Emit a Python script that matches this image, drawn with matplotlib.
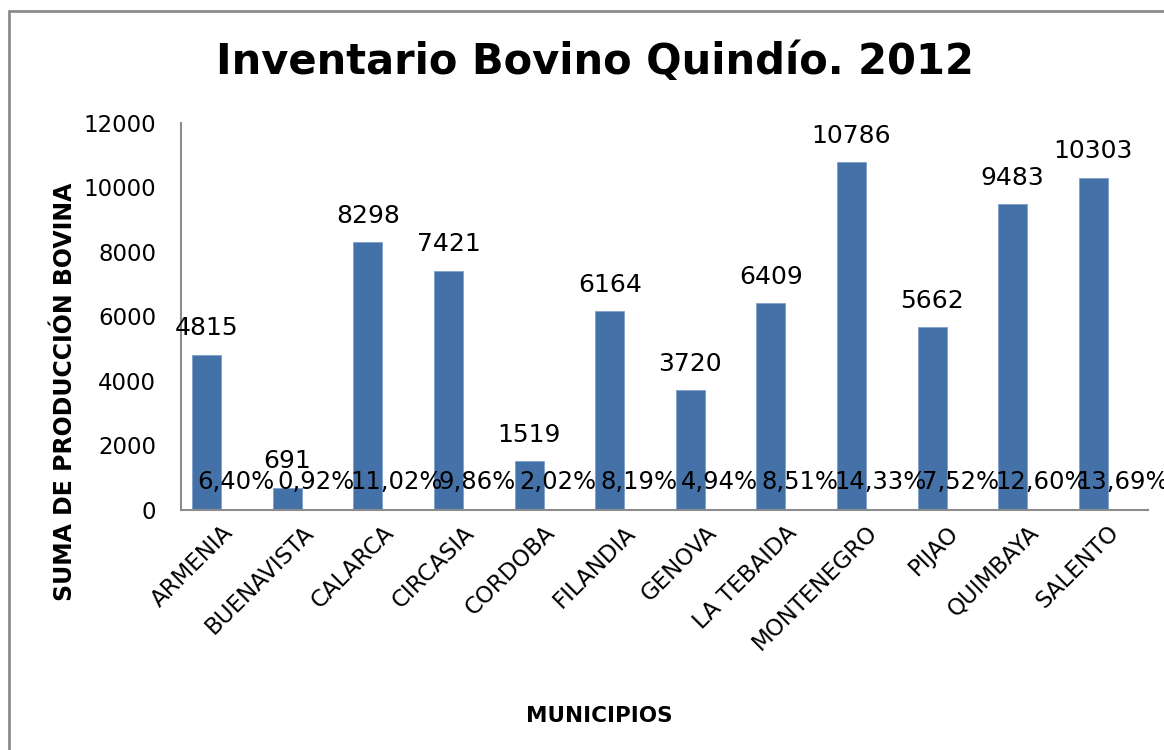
import matplotlib.pyplot as plt
from matplotlib.patches import Rectangle

municipios = ['ARMENIA', 'BUENAVISTA', 'CALARCA', 'CIRCASIA', 'CORDOBA', 'FILANDIA',
              'GENOVA', 'LA TEBAIDA', 'MONTENEGRO', 'PIJAO', 'QUIMBAYA', 'SALENTO']
bovinos = [4815, 691, 8298, 7421, 1519, 6164, 3720, 6409, 10786, 5662, 9483, 10303]
porcentajes = ['6,40%', '0,92%', '11,02%', '9,86%', '2,02%', '8,19%',
               '4,94%', '8,51%', '14,33%', '7,52%', '12,60%', '13,69%']

plt.rcParams['font.family'] = ['DejaVu Sans']

fig = plt.figure(figsize=(11.64, 7.5), dpi=100)
ax = fig.add_axes([181 / 1164, 240 / 750, 967 / 1164, 387 / 750])

x = list(range(len(municipios)))
w = 0.36
bars = ax.bar([i - w / 2 for i in x], bovinos, width=w, color='#4472A8',
              edgecolor='#7F9FC9', linewidth=0.6, zorder=2)

# cantidad encima de cada barra
for b, v in zip(bars, bovinos):
    ax.annotate(str(v), (b.get_x() + b.get_width() / 2, v), xytext=(0, 19),
                textcoords='offset points', ha='center', va='center', fontsize=18)

# participación porcentual junto a cada barra
for i, p in zip(x, porcentajes):
    ax.annotate(p, (i + w / 2, 0), xytext=(0, 20), textcoords='offset points',
                ha='center', va='center', fontsize=17.5)

ax.set_xlim(-0.5, len(municipios) - 0.5)
ax.set_ylim(0, 12000)
ax.set_yticks(range(0, 12001, 2000))
ax.tick_params(axis='y', length=0, pad=18, labelsize=16.5)
ax.set_xticks(x)
ax.set_xticklabels(municipios, rotation=45, ha='right', rotation_mode='anchor', fontsize=16.5)
ax.tick_params(axis='x', length=0, pad=8)

for s in ['top', 'right']:
    ax.spines[s].set_visible(False)
for s in ['left', 'bottom']:
    ax.spines[s].set_color('#8C8C8C')
    ax.spines[s].set_linewidth(1.5)

fig.text(595 / 1164, 1 - 62 / 750, 'Inventario Bovino Quindío. 2012', ha='center', va='center',
         fontsize=30, fontweight='bold')
fig.text(65 / 1164, 1 - 392 / 750, 'SUMA DE PRODUCCIÓN BOVINA', ha='center', va='center',
         rotation=90, fontsize=17, fontweight='bold')
fig.text(599 / 1164, 1 - 716 / 750, 'MUNICIPIOS', ha='center', va='center',
         fontsize=15.5, fontweight='bold')

# borde del gráfico
fig.add_artist(Rectangle((9 / 1164, -0.05), 1.2, 1 - 11 / 750 + 0.05, transform=fig.transFigure,
                         fill=False, edgecolor='#8C8C8C', linewidth=2))

fig.savefig('out.png', dpi=100)
